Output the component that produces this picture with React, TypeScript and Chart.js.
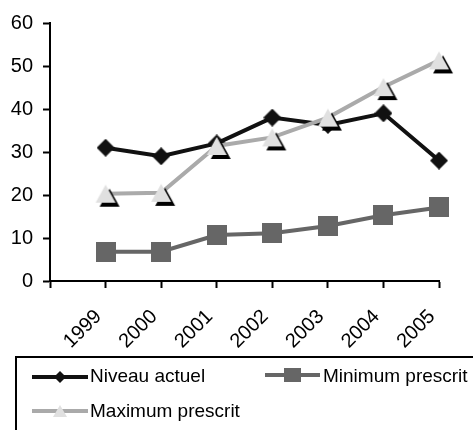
import React, { useEffect, useRef } from "react";
import { Chart, registerables } from "chart.js";

Chart.register(...registerables);

const years = [1999, 2000, 2001, 2002, 2003, 2004, 2005];
const niveauActuel = [31, 29, 32, 38, 36.3, 39, 28];
const minimumPrescrit = [6.8, 6.8, 10.7, 11.1, 12.8, 15.3, 17.1];
const maximumPrescrit = [20.3, 20.5, 31.4, 33.4, 38, 45.1, 51.3];
const seriesNames = ["Niveau actuel", "Minimum prescrit", "Maximum prescrit"];
const yTicks = [0, 10, 20, 30, 40, 50, 60];

const FONT = "'Liberation Sans', Arial, sans-serif";

function makeCanvas(w: number, h: number, draw: (c: CanvasRenderingContext2D) => void) {
  const cv = document.createElement("canvas");
  cv.width = w;
  cv.height = h;
  const c = cv.getContext("2d")!;
  draw(c);
  return cv;
}

function diamondImg() {
  return makeCanvas(18, 18, (c) => {
    c.fillStyle = "#111";
    c.beginPath();
    c.moveTo(9, 0);
    c.lineTo(18, 9);
    c.lineTo(9, 18);
    c.lineTo(0, 9);
    c.closePath();
    c.fill();
  });
}

function squareImg() {
  return makeCanvas(20, 20, (c) => {
    c.fillStyle = "#666";
    c.fillRect(0, 0, 20, 20);
  });
}

function triangleImg() {
  return makeCanvas(30, 30, (c) => {
    c.fillStyle = "#000";
    c.beginPath();
    c.moveTo(19, 10);
    c.lineTo(29, 28);
    c.lineTo(9, 28);
    c.closePath();
    c.fill();
    c.fillStyle = "#e0e0e0";
    c.beginPath();
    c.moveTo(15, 6);
    c.lineTo(25, 24);
    c.lineTo(5, 24);
    c.closePath();
    c.fill();
  });
}

const legendPlugin = {
  id: "customLegend",
  afterDraw(chart: any) {
    const ctx = chart.ctx as CanvasRenderingContext2D;
    ctx.save();
    ctx.strokeStyle = "#000";
    ctx.lineWidth = 2;
    ctx.strokeRect(16, 357, 500, 100);

    ctx.font = `19px ${FONT}`;
    ctx.fillStyle = "#000";
    ctx.textBaseline = "middle";
    ctx.textAlign = "left";

    // Niveau actuel
    ctx.strokeStyle = "#111";
    ctx.lineWidth = 4;
    ctx.beginPath();
    ctx.moveTo(32, 377);
    ctx.lineTo(88, 377);
    ctx.stroke();
    ctx.fillStyle = "#111";
    ctx.beginPath();
    ctx.moveTo(60, 371);
    ctx.lineTo(66, 377);
    ctx.lineTo(60, 383);
    ctx.lineTo(54, 377);
    ctx.closePath();
    ctx.fill();
    ctx.fillStyle = "#000";
    ctx.fillText(seriesNames[0], 90, 377);

    // Minimum prescrit
    ctx.strokeStyle = "#666";
    ctx.beginPath();
    ctx.moveTo(265, 375);
    ctx.lineTo(320, 375);
    ctx.stroke();
    ctx.fillStyle = "#666";
    ctx.fillRect(284, 368, 17, 14);
    ctx.fillStyle = "#000";
    ctx.fillText(seriesNames[1], 323, 377);

    // Maximum prescrit
    ctx.strokeStyle = "#aaa";
    ctx.beginPath();
    ctx.moveTo(32, 411);
    ctx.lineTo(88, 411);
    ctx.stroke();
    ctx.fillStyle = "#e0e0e0";
    ctx.beginPath();
    ctx.moveTo(60, 405);
    ctx.lineTo(67, 417);
    ctx.lineTo(53, 417);
    ctx.closePath();
    ctx.fill();
    ctx.fillStyle = "#000";
    ctx.fillText(seriesNames[2], 90, 412);
    ctx.restore();
  },
};

export default function App() {
  const ref = useRef<HTMLCanvasElement>(null);

  useEffect(() => {
    document.body.style.margin = "0";
    document.documentElement.style.overflow = "hidden";
    const canvas = ref.current!;
    const toXY = (vals: number[]) => vals.map((v, i) => ({ x: years[i], y: v }));
    const chart = new Chart(canvas, {
      type: "line",
      data: {
        datasets: [
          {
            label: seriesNames[0],
            data: toXY(niveauActuel),
            borderColor: "#111",
            borderWidth: 4,
            pointStyle: diamondImg() as any,
            pointRadius: 9,
            order: 1,
            clip: false as any,
          },
          {
            label: seriesNames[1],
            data: toXY(minimumPrescrit),
            borderColor: "#666",
            borderWidth: 4,
            pointStyle: squareImg() as any,
            pointRadius: 10,
            order: 2,
            clip: false as any,
          },
          {
            label: seriesNames[2],
            data: toXY(maximumPrescrit),
            borderColor: "#aaa",
            borderWidth: 4,
            pointStyle: triangleImg() as any,
            pointRadius: 10,
            order: 0,
            clip: false as any,
          },
        ],
      },
      options: {
        animation: false,
        responsive: false,
        events: [],
        layout: { padding: { left: 0, right: 18, top: 23, bottom: 72 } },
        plugins: {
          legend: { display: false },
          tooltip: { enabled: false },
        },
        scales: {
          x: {
            type: "linear",
            min: 1998,
            max: 2005,
            afterBuildTicks: (s: any) => {
              s.ticks = [1998, ...years].map((v) => ({ value: v }));
            },
            ticks: {
              autoSkip: false,
              minRotation: 45,
              maxRotation: 45,
              color: "#000",
              padding: 17,
              labelOffset: -7,
              font: { family: FONT, size: 20 },
              callback: (v: any) => (years.includes(v) ? String(v) : ""),
            },
            grid: {
              drawOnChartArea: false,
              drawTicks: true,
              tickLength: 7,
              tickColor: "#000",
              tickWidth: 2,
            },
            border: { color: "#000", width: 2 },
            afterFit: (s: any) => {
              s.height = 77;
            },
          },
          y: {
            min: 0,
            max: 60,
            afterBuildTicks: (s: any) => {
              s.ticks = yTicks.map((v) => ({ value: v }));
            },
            ticks: {
              color: "#000",
              padding: 10,
              font: { family: FONT, size: 20 },
            },
            grid: {
              drawOnChartArea: false,
              drawTicks: true,
              tickLength: 7,
              tickColor: "#000",
              tickWidth: 2,
            },
            border: { color: "#000", width: 2 },
            afterFit: (s: any) => {
              s.width = 50;
            },
          },
        },
      },
      plugins: [legendPlugin],
    });
    return () => chart.destroy();
  }, []);

  return <canvas ref={ref} width={473} height={430} style={{ display: "block" }} />;
}
